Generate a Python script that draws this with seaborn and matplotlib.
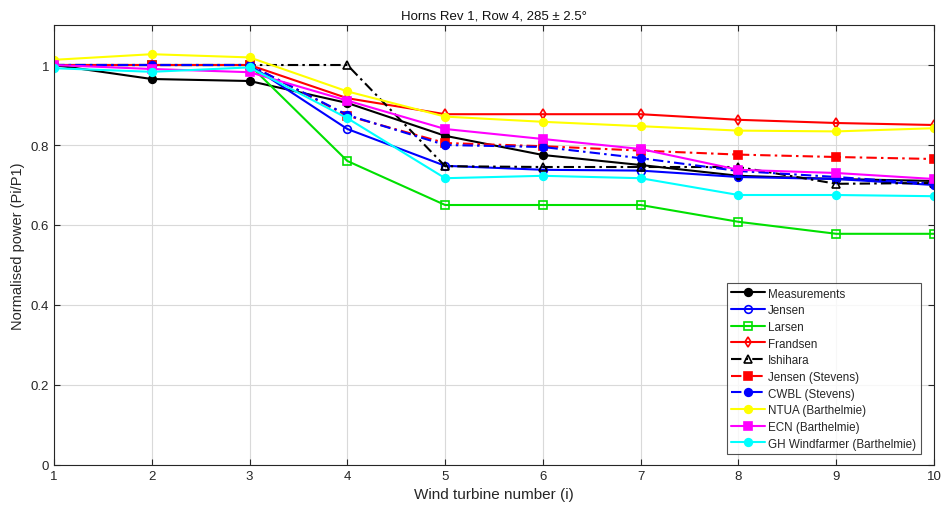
import matplotlib
matplotlib.use("Agg")
import matplotlib.pyplot as plt
import seaborn as sns
import numpy as np

turbines = [1, 2, 3, 4, 5, 6, 7, 8, 9, 10]
measurements = [1.0, 0.965, 0.96, 0.905, 0.823, 0.775, 0.75, 0.723, 0.715, 0.71]
jensen = [1.0, 1.0, 1.0, 0.84, 0.748, 0.738, 0.736, 0.72, 0.715, 0.70]
larsen = [1.0, 1.0, 1.0, 0.76, 0.65, 0.65, 0.65, 0.608, 0.578, 0.578]
frandsen = [1.0, 1.0, 1.0, 0.917, 0.877, 0.877, 0.877, 0.863, 0.855, 0.85]
ishihara = [1.0, 1.0, 1.0, 1.0, 0.747, 0.745, 0.745, 0.745, 0.703, 0.705]
jensen_stevens = [1.0, 1.0, 1.0, 0.873, 0.805, 0.797, 0.786, 0.776, 0.77, 0.765]
cwbl_stevens = [1.0, 1.0, 1.0, 0.875, 0.80, 0.795, 0.767, 0.735, 0.72, 0.703]
ntua = [1.013, 1.027, 1.019, 0.934, 0.871, 0.858, 0.847, 0.836, 0.834, 0.842]
ecn = [1.0, 0.99, 0.982, 0.911, 0.84, 0.815, 0.79, 0.738, 0.73, 0.715]
gh = [0.992, 0.983, 0.994, 0.867, 0.717, 0.723, 0.717, 0.675, 0.675, 0.672]

x_ticks = [1, 2, 3, 4, 5, 6, 7, 8, 9, 10]
y_ticks = [0, 0.2, 0.4, 0.6, 0.8, 1.0]
y_tick_labels = ["0", "0.2", "0.4", "0.6", "0.8", "1"]

sns.set_style("white")
plt.rcParams["font.family"] = ["Liberation Sans", "DejaVu Sans"]

fig = plt.figure(figsize=(9.41, 5.10), dpi=100)
ax = fig.add_axes([0.0574, 0.0863, 0.9352, 0.8627])

dashdot = (0, (5, 2, 1.2, 2))
series = [
    ("Measurements", measurements, "black", "o", "black", "-"),
    ("Jensen", jensen, "blue", "o", "none", "-"),
    ("Larsen", larsen, "#00e000", "s", "none", "-"),
    ("Frandsen", frandsen, "red", "d", "none", "-"),
    ("Ishihara", ishihara, "black", "^", "none", dashdot),
    ("Jensen (Stevens)", jensen_stevens, "red", "s", "red", dashdot),
    ("CWBL (Stevens)", cwbl_stevens, "blue", "o", "blue", dashdot),
    ("NTUA (Barthelmie)", ntua, "#ffff00", "o", "#ffff00", "-"),
    ("ECN (Barthelmie)", ecn, "magenta", "s", "magenta", "-"),
    ("GH Windfarmer (Barthelmie)", gh, "cyan", "o", "cyan", "-"),
]

for label, vals, col, mk, mfc, ls in series:
    sns.lineplot(x=turbines, y=vals, ax=ax, color=col, marker=mk,
                 markerfacecolor=mfc, markeredgecolor=col, markersize=5.5,
                 markeredgewidth=1.2, linewidth=1.5, linestyle=ls, label=label)

ax.set_xlim(1, 10)
ax.set_ylim(0, 1.1)
ax.set_xticks(x_ticks)
ax.set_xticklabels([str(t) for t in x_ticks])
ax.set_yticks(y_ticks)
ax.set_yticklabels(y_tick_labels)
ax.grid(True, color="#d9d9d9", linewidth=0.8)
ax.tick_params(direction="in", length=4, labelsize=9.5, top=True, right=True,
               bottom=True, left=True, color="#262626", labelcolor="#262626")
for s in ax.spines.values():
    s.set_color("#262626")
    s.set_linewidth(0.8)
ax.set_xlabel("Wind turbine number (i)", fontsize=11, color="#262626")
ax.set_ylabel("Normalised power (Pi/P1)", fontsize=10.5, color="#262626")
ax.set_title("Horns Rev 1, Row 4, 285 \u00b1 2.5\u00b0", fontsize=9.5, pad=5, color="#111111")

leg = ax.legend(loc="upper right", bbox_to_anchor=(0.985, 0.414), frameon=True,
                fancybox=False, edgecolor="#262626", fontsize=8.4, handlelength=2.85,
                labelspacing=0.4, borderpad=0.4, handletextpad=0.3, borderaxespad=0)
leg.get_frame().set_linewidth(0.8)

fig.savefig("out.png", dpi=100)
